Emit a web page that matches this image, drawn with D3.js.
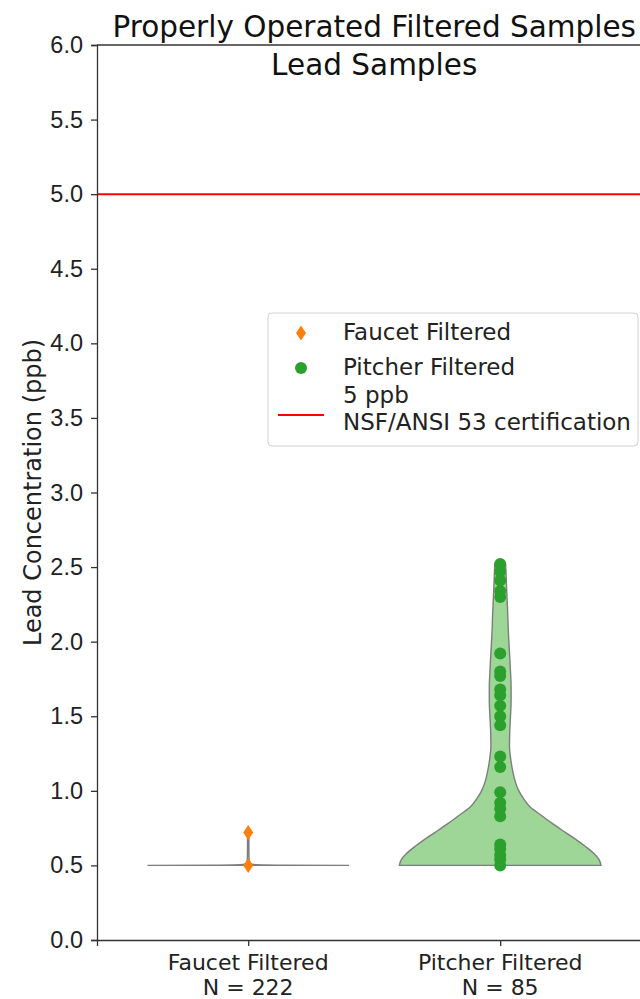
<!DOCTYPE html>
<html>
<head>
<meta charset="utf-8">
<script src="https://cdn.jsdelivr.net/npm/d3@7"></script>
<style>
  body { margin: 0; background: #fff; }
  svg { display: block; font-family: "DejaVu Sans", sans-serif; }
  .axis text { font-size: 23.5px; fill: #222; }
  .axis path, .axis line { stroke: #333; stroke-width: 1.3; }
</style>
</head>
<body>
<div id="chart"></div>
<script>
var W = 640, H = 999;
var margin = {top: 45, left: 97, bottom: 59};

var categories = ["Faucet Filtered", "Pitcher Filtered"]
var counts = [222, 85]
var yTicks = [0, 0.5, 1, 1.5, 2, 2.5, 3, 3.5, 4, 4.5, 5, 5.5, 6]
var limit = 5

// sample values
var faucetValues = [0.72, 0.50]
var pitcherValues = [2.52, 2.47, 2.41, 2.34, 2.30, 1.92, 1.80, 1.77, 1.68, 1.64, 1.57,
  1.50, 1.44, 1.23, 1.16, 0.99, 0.92, 0.88, 0.83, 0.64, 0.61, 0.57, 0.54, 0.50]

// violin outlines: [value, relative width]
var faucetDensity = [[0.50, 1.0], [0.502, 0.35], [0.505, 0.08], [0.51, 0.02], [0.55, 0.008], [0.72, 0.006]]
var pitcherDensity = [[0.50, 1.00], [0.54, 0.98], [0.58, 0.93], [0.63, 0.84], [0.67, 0.76], [0.72, 0.65],
  [0.78, 0.52], [0.84, 0.40], [0.89, 0.30], [0.95, 0.23], [1.00, 0.185], [1.06, 0.15],
  [1.12, 0.128], [1.21, 0.105], [1.30, 0.092], [1.40, 0.095], [1.50, 0.102], [1.60, 0.108],
  [1.70, 0.108], [1.80, 0.102], [1.93, 0.092], [2.05, 0.082], [2.20, 0.074], [2.35, 0.064],
  [2.45, 0.058], [2.52, 0.054]]

var svg = d3.select("#chart").append("svg")
  .attr("width", W)
  .attr("height", H)

var x = d3.scaleLinear().domain([-0.6, 1.6]).range([margin.left, margin.left + 2.2 * 252])
var y = d3.scaleLinear().domain([0, 6]).range([H - margin.bottom, margin.top])
var halfWidth = 0.4

function violin(density, i, fill){
  var area = d3.area()
    .curve(d3.curveMonotoneY)
    .y(function(d){ return y(d[0]) })
    .x0(function(d){ return x(i - d[1] * halfWidth) })
    .x1(function(d){ return x(i + d[1] * halfWidth) })
  svg.append("path")
    .datum(density)
    .attr("d", area)
    .attr("fill", fill)
    .attr("stroke", "#7d7d7d")
    .attr("stroke-width", 1.4)
}

violin(faucetDensity, 0, "#ffbf86")
violin(pitcherDensity, 1, "#9dd697")

// 5 ppb line
svg.append("line")
  .attr("x1", x(-0.6)).attr("x2", x(1.6))
  .attr("y1", y(limit)).attr("y2", y(limit))
  .attr("stroke", "#f00")
  .attr("stroke-width", 2)

var diamond = "M0,-7.5L5,0L0,7.5L-5,0Z"

svg.selectAll(".faucet.dot")
  .data(faucetValues)
  .enter().append("path")
    .attr("class", "faucet dot")
    .attr("d", diamond)
    .attr("transform", function(d){ return "translate(" + x(0) + "," + y(d) + ")" })
    .attr("fill", "#ff7f0e")

svg.selectAll(".pitcher.dot")
  .data(pitcherValues)
  .enter().append("circle")
    .attr("class", "pitcher dot")
    .attr("cx", x(1))
    .attr("cy", function(d){ return y(d) })
    .attr("r", 6)
    .attr("fill", "#2ca02c")

// axes
svg.append("g")
  .attr("class", "y axis")
  .attr("transform", "translate(" + margin.left + ",0)")
  .call(d3.axisLeft(y).tickValues(yTicks).tickFormat(d3.format(".1f")).tickSizeOuter(0).tickSize(6).tickPadding(8))

svg.append("g")
  .attr("class", "x axis")
  .attr("transform", "translate(0," + y(0) + ")")
  .call(d3.axisBottom(x).tickValues([0, 1]).tickFormat("").tickSizeOuter(0).tickSize(6))

svg.append("line")
  .attr("x1", x(-0.6)).attr("x2", x(1.6))
  .attr("y1", y(6)).attr("y2", y(6))
  .attr("stroke", "#333").attr("stroke-width", 1.3)

categories.forEach(function(c, i){
  svg.append("text")
    .attr("x", x(i))
    .attr("y", y(0) + 30)
    .attr("text-anchor", "middle")
    .style("font-size", "22px")
    .style("fill", "#222")
    .text(c)
  svg.append("text")
    .attr("x", x(i))
    .attr("y", y(0) + 55)
    .attr("text-anchor", "middle")
    .style("font-size", "22px")
    .style("fill", "#222")
    .text("N = " + counts[i])
})

svg.append("text")
  .attr("transform", "translate(33," + ((y(0) + y(6)) / 2) + ") rotate(-90)")
  .attr("text-anchor", "middle")
  .attr("dy", "0.35em")
  .style("font-size", "24px")
  .style("fill", "#222")
  .text("Lead Concentration (ppb)")

// titles
svg.append("text")
  .attr("x", x(0.5)).attr("y", 37)
  .attr("text-anchor", "middle")
  .style("font-size", "29.5px")
  .style("fill", "#111")
  .text("Properly Operated Filtered Samples")

svg.append("text")
  .attr("x", x(0.5)).attr("y", 75)
  .attr("text-anchor", "middle")
  .style("font-size", "29.5px")
  .style("fill", "#111")
  .text("Lead Samples")

// legend
var legend = svg.append("g").attr("transform", "translate(268,313)")
legend.append("rect")
  .attr("width", 370).attr("height", 133)
  .attr("rx", 4)
  .attr("fill", "#fff").attr("fill-opacity", 0.8)
  .attr("stroke", "#d0d0d0")

legend.append("path")
  .attr("d", diamond)
  .attr("transform", "translate(33,20)")
  .attr("fill", "#ff7f0e")
legend.append("text").attr("x", 75).attr("y", 27).style("font-size", "23px").style("fill", "#222").text(categories[0])

legend.append("circle")
  .attr("cx", 33).attr("cy", 55).attr("r", 6)
  .attr("fill", "#2ca02c")
legend.append("text").attr("x", 75).attr("y", 62).style("font-size", "23px").style("fill", "#222").text(categories[1])

legend.append("line")
  .attr("x1", 10).attr("x2", 56)
  .attr("y1", 102).attr("y2", 102)
  .attr("stroke", "#f00").attr("stroke-width", 2)
legend.append("text").attr("x", 75).attr("y", 90).style("font-size", "23px").style("fill", "#222").text("5 ppb")
legend.append("text").attr("x", 75).attr("y", 117).style("font-size", "23px").style("fill", "#222").text("NSF/ANSI 53 certification")
</script>
</body>
</html>
